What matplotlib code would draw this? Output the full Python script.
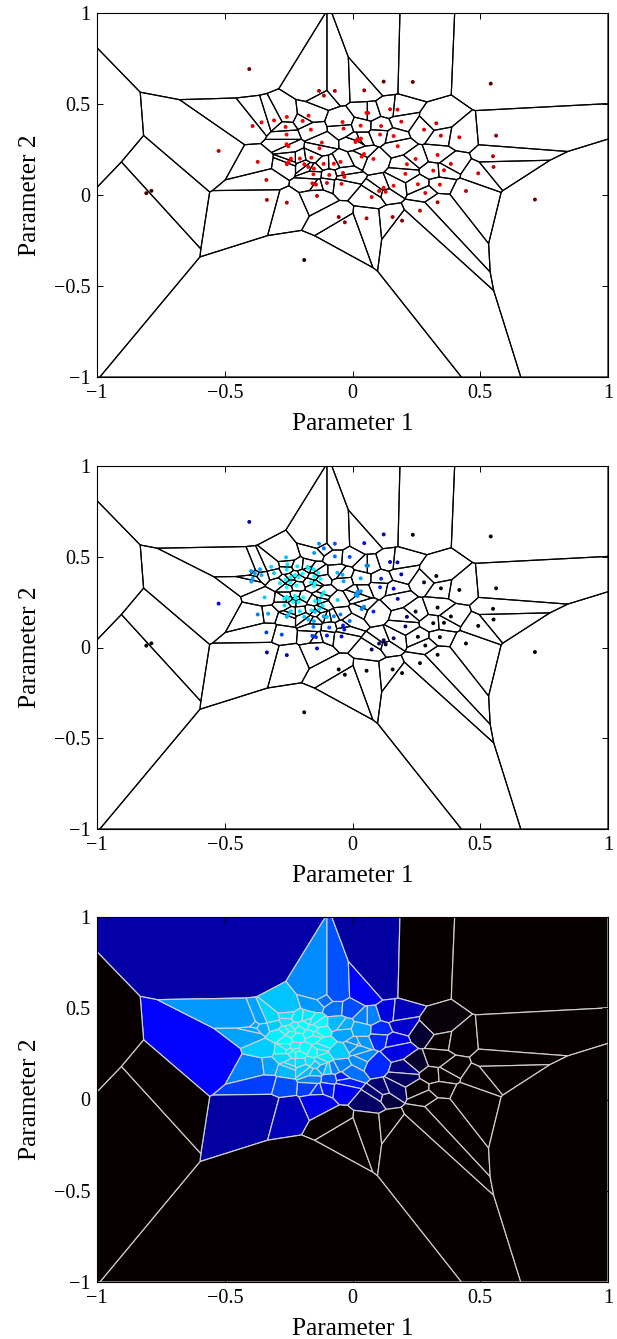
import numpy as np
import matplotlib
matplotlib.use('Agg')
import matplotlib.pyplot as plt
from matplotlib.colors import LinearSegmentedColormap

plt.rcParams['font.family'] = ['Liberation Serif', 'DejaVu Serif']

# parameter samples visible in the top panel
x_base = [-0.404, -0.131, -0.112, -0.069, -0.391, -0.356, -0.307, -0.257, -0.172, -0.195,
          -0.262, -0.258, -0.163, -0.039, -0.035, -0.120, -0.129, -0.258, -0.251, -0.524,
          -0.371, -0.241, -0.250, -0.257, -0.206, -0.161, -0.189, -0.173, -0.151, -0.113,
          -0.073, -0.047, -0.153, -0.091, -0.037, -0.032, -0.337, -0.157, -0.143, -0.100,
          -0.043, -0.139, -0.335, -0.257, -0.054, -0.030,
          0.046, 0.122, 0.236, 0.541, 0.055, 0.061, 0.147, 0.176, 0.032, 0.112,
          0.191, 0.328, 0.280, 0.108, 0.161, 0.346, 0.418, 0.562, 0.033, 0.022,
          0.019, 0.012, 0.177, 0.045, 0.036, 0.082, 0.333, 0.247, 0.213, 0.550,
          0.552, 0.385, 0.316, 0.358, 0.207, 0.492, 0.161, 0.256, 0.342, 0.122,
          0.104, 0.130, 0.285, 0.444, 0.075, 0.333, 0.264, 0.055, 0.157, 0.194,
          0.714, -0.189, -0.807, -0.787, -1.100]
y_base = [0.692, 0.572, 0.546, 0.572, 0.379, 0.399, 0.410, 0.429, 0.436, 0.407,
          0.374, 0.332, 0.359, 0.401, 0.365, 0.288, 0.257, 0.279, 0.268, 0.242,
          0.182, 0.200, 0.182, 0.169, 0.200, 0.205, 0.169, 0.154, 0.145, 0.171,
          0.172, 0.182, 0.114, 0.110, 0.121, 0.099, 0.083, 0.064, 0.057, 0.066,
          0.061, -0.005, -0.027, -0.042, -0.121, -0.150,
          0.575, 0.623, 0.621, 0.612, 0.451, 0.451, 0.471, 0.469, 0.381, 0.379,
          0.403, 0.394, 0.359, 0.332, 0.324, 0.326, 0.317, 0.326, 0.310, 0.304,
          0.306, 0.291, 0.268, 0.225, 0.211, 0.198, 0.220, 0.198, 0.169, 0.213,
          0.154, 0.171, 0.134, 0.136, 0.116, 0.119, 0.051, 0.059, 0.057, 0.040,
          0.022, 0.017, 0.011, 0.022, -0.011, -0.040, -0.086, -0.128, -0.121, -0.141,
          -0.025, -0.357, 0.010, 0.023, 0.210]
# misfit shading of the top panel (black to red)
red_base = [0.40, 0.65, 0.75, 0.70, 0.85, 0.90, 0.95, 1, 1, 1,
            1, 1, 1, 0.95, 0.95, 1, 1, 1, 1, 0.75,
            0.90, 1, 1, 1, 1, 1, 1, 1, 1, 1,
            1, 1, 1, 1, 0.95, 0.95, 0.85, 0.90, 0.90, 0.90,
            0.90, 0.80, 0.70, 0.70, 0.50, 0.55,
            0.60, 0.40, 0.40, 0.30, 0.95, 0.95, 0.90, 0.90, 1, 1,
            0.90, 0.85, 0.90, 1, 1, 0.85, 0.85, 0.60, 1, 1,
            1, 1, 1, 1, 1, 1, 0.90, 1, 1, 0.70,
            0.70, 0.85, 0.95, 0.90, 1, 0.80, 0.95, 0.95, 0.90, 1,
            0.95, 0.95, 0.90, 0.75, 0.90, 0.70, 0.75, 0.70, 0.60, 0.55,
            0.40, 0.10, 0.20, 0.25, 0.10]
# same samples on the black-blue-cyan scale of the lower panels
blue_base = [0.33, 0.77, 0.72, 0.66, 0.82, 0.84, 0.90, 0.96, 0.96, 1.0,
             1.0, 1.0, 1.0, 0.84, 0.82, 0.97, 0.97, 0.98, 0.98, 0.50,
             0.75, 0.93, 0.90, 0.86, 0.93, 0.95, 0.90, 0.86, 0.84, 0.82,
             0.75, 0.75, 0.75, 0.65, 0.55, 0.55, 0.62, 0.62, 0.60, 0.55,
             0.48, 0.45, 0.32, 0.36, 0.0, 0.0,
             0.50, 0.32, 0.0, 0.0, 0.75, 0.75, 0.44, 0.36, 0.82, 0.58,
             0.40, 0.02, 0.10, 0.58, 0.46, 0.0, 0.0, 0.0, 0.80, 0.80,
             0.80, 0.80, 0.44, 0.77, 0.77, 0.58, 0.0, 0.08, 0.25, 0.0,
             0.0, 0.0, 0.0, 0.0, 0.18, 0.0, 0.20, 0.0, 0.0, 0.22,
             0.22, 0.12, 0.0, 0.0, 0.20, 0.0, 0.0, 0.0, 0.0, 0.0,
             0.0, 0.0, 0.0, 0.0, 0.0]

# extra samples that only exist in the two lower panels
x_extra = [-0.150, -0.260, -0.069, -0.011, -0.318, -0.255, -0.216, -0.176, -0.152, -0.362,
           -0.397, -0.382, -0.396, -0.225, -0.242, -0.211, -0.134, -0.150, -0.125, -0.059,
           -0.284, -0.243, -0.147, -0.219, -0.151, -0.112, -0.344, -0.267, -0.225, -0.221,
           -0.193, -0.058, -0.232, -0.211, -0.147, -0.117, -0.266, -0.147, -0.130, -0.330,
           -0.100, -0.011, -0.277, 0.020]
y_extra = [0.521, 0.497, 0.502, 0.499, 0.445, 0.458, 0.447, 0.444, 0.431, 0.431,
           0.421, 0.409, 0.363, 0.399, 0.387, 0.387, 0.412, 0.390, 0.377, 0.412,
           0.355, 0.357, 0.354, 0.341, 0.339, 0.304, 0.276, 0.269, 0.284, 0.271,
           0.276, 0.262, 0.251, 0.251, 0.256, 0.232, 0.232, 0.196, 0.212, 0.186,
           0.168, 0.146, 0.071, 0.284]
blue_extra = [0.80, 0.88, 0.72, 0.65, 0.92, 0.95, 0.95, 0.96, 0.97, 0.82,
              0.80, 0.82, 0.82, 1.0, 1.0, 1.0, 1.0, 1.0, 1.0, 0.86,
              0.97, 1.0, 1.0, 1.0, 1.0, 0.98, 0.90, 0.97, 1.0, 1.0,
              1.0, 0.90, 1.0, 1.0, 1.0, 0.97, 0.93, 0.90, 0.93, 0.82,
              0.90, 0.72, 0.65, 0.80]

tick_vals = [-1, -0.5, 0, 0.5, 1]
tick_labels = ['\u22121', '\u22120.5', '0', '0.5', '1']

red_map = LinearSegmentedColormap.from_list('kr', ['#080000', '#ff0000'])
blue_map = LinearSegmentedColormap.from_list('kbc', ['#080000', '#0000ff', '#00ffff'])


def clip_halfplane(poly, mid, normal):
    # keep the part of poly on the side where (p-mid).normal <= 0
    d = (poly - mid) @ normal
    out = []
    for i in range(len(poly)):
        j = (i + 1) % len(poly)
        if d[i] <= 0:
            out.append(poly[i])
        if d[i] * d[j] < 0:
            t = d[i] / (d[i] - d[j])
            out.append(poly[i] + t * (poly[j] - poly[i]))
    return np.array(out)


def voronoi_cells(xs, ys):
    pts = np.column_stack([xs, ys])
    cells = []
    for i, p in enumerate(pts):
        poly = np.array([[-1.0, -1.0], [1.0, -1.0], [1.0, 1.0], [-1.0, 1.0]])
        for k, q in enumerate(pts):
            if k == i:
                continue
            poly = clip_halfplane(poly, (p + q) / 2, q - p)
            if len(poly) == 0:
                break
        cells.append(poly)
    return cells


def setup_axes(ax):
    ax.set_xlim(-1, 1)
    ax.set_ylim(-1, 1)
    ax.set_xticks(tick_vals)
    ax.set_xticklabels(tick_labels)
    ax.set_yticks(tick_vals)
    ax.set_yticklabels(tick_labels)
    ax.tick_params(direction='in', length=4, width=0.7, labelsize=14.5, top=True, right=True)
    ax.tick_params(axis='x', pad=5)
    ax.tick_params(axis='y', pad=5)
    ax.set_xlabel('Parameter 1', fontsize=18.3, labelpad=7.5)
    ax.set_ylabel('Parameter 2', fontsize=18.3, labelpad=9)
    for s in ax.spines.values():
        s.set_linewidth(0.8)


W, H = 617, 1339
fig = plt.figure(figsize=(W / 100, H / 100), dpi=100)


def panel(top, bottom):
    return fig.add_axes([97 / W, 1 - bottom / H, (608 - 97) / W, (bottom - top) / H])


x_all = x_base + x_extra
y_all = y_base + y_extra
blue_all = blue_base + blue_extra

# top panel
ax1 = panel(13, 377)
for cell in voronoi_cells(x_base, y_base):
    if len(cell):
        ax1.fill(cell[:, 0], cell[:, 1], facecolor='none', edgecolor='k', linewidth=0.85)
ax1.scatter(x_base, y_base, c=red_base, cmap=red_map, vmin=0, vmax=1, s=8, linewidths=0, zorder=3)
setup_axes(ax1)

# middle panel
cells_all = voronoi_cells(x_all, y_all)
ax2 = panel(466, 829)
for cell in cells_all:
    if len(cell):
        ax2.fill(cell[:, 0], cell[:, 1], facecolor='none', edgecolor='k', linewidth=0.85)
ax2.scatter(x_all, y_all, c=blue_all, cmap=blue_map, vmin=0, vmax=1, s=8, linewidths=0, zorder=3)
setup_axes(ax2)

# bottom panel, cells filled
ax3 = panel(917, 1282)
for cell, v in zip(cells_all, blue_all):
    if len(cell):
        ax3.fill(cell[:, 0], cell[:, 1], facecolor=blue_map(float(v)), edgecolor='#d0d0d0', linewidth=0.85)
setup_axes(ax3)

fig.savefig('out.png', dpi=100)
